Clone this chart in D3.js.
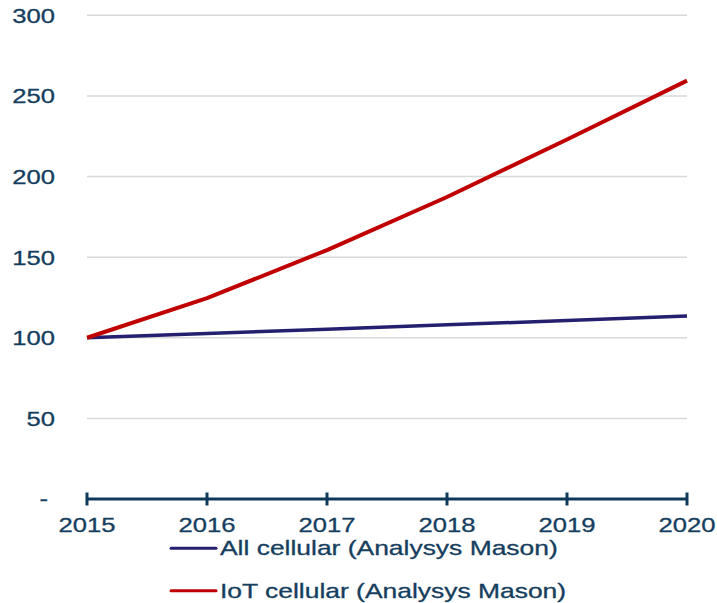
<!DOCTYPE html>
<html lang="en">
<head>
  <meta charset="UTF-8">
  <title>Cellular connections index</title>
  <script src="https://d3js.org/d3.v7.min.js"></script>
  <style>
    body { margin: 0; background: #fff; font-family: "Liberation Sans", Arial, sans-serif; }
    .lbl { fill: #153e5e; stroke: #153e5e; stroke-width: 0.3; font-size: 20.5px; }
    .grid { stroke: #d9d9d9; stroke-width: 1.5; }
    .axis { stroke: #0f3a5a; stroke-width: 3; }
  </style>
</head>
<body>
  <svg id="chart" width="717" height="603"></svg>
  <script>
    // data (index, 2015 = 100)
    const years = [2015, 2016, 2017, 2018, 2019, 2020];
    const allCellular = [100, 102.7, 105.3, 108, 110.7, 113.5];
    const iotCellular = [100, 124.6, 154.4, 187.3, 223, 259.5];
    const yTicks = [0, 50, 100, 150, 200, 250, 300];
    const yTickLabels = ["-", "50", "100", "150", "200", "250", "300"];
    const seriesNames = ["All cellular (Analysys Mason)", "IoT cellular (Analysys Mason)"];
    const seriesColors = ["#24206f", "#c00000"];

    const svg = d3.select("#chart");
    const stretch = 1.25; // text in the picture is wider than plain Arial

    const x = d3.scaleLinear().domain([2015, 2020]).range([87, 687]);
    const y = d3.scaleLinear().domain([0, 300]).range([499, 15.3]);

    // gridlines
    svg.append("g").selectAll("line")
      .data(yTicks.filter(d => d > 0))
      .enter().append("line")
      .attr("class", "grid")
      .attr("x1", x(2015)).attr("x2", x(2020))
      .attr("y1", d => y(d)).attr("y2", d => y(d));

    // y labels
    svg.append("g").selectAll("text")
      .data(yTicks)
      .enter().append("text")
      .attr("class", "lbl")
      .attr("text-anchor", "end")
      .attr("dy", "0.36em")
      .attr("transform", d => `translate(${d === 0 ? 48 : 55},${y(d)}) scale(${stretch},1)`)
      .text((d, i) => yTickLabels[i]);

    // series lines
    const line = d3.line().x((d, i) => x(years[i])).y(d => y(d));
    [allCellular, iotCellular].forEach((vals, i) => {
      svg.append("path")
        .datum(vals)
        .attr("fill", "none")
        .attr("stroke", seriesColors[i])
        .attr("stroke-width", i === 0 ? 3.5 : 4)
        .attr("stroke-linejoin", "round")
        .attr("d", line);
    });

    // x axis
    const xAxis = svg.append("g");
    xAxis.append("line").attr("class", "axis")
      .attr("x1", x(2015)).attr("x2", x(2020))
      .attr("y1", y(0)).attr("y2", y(0));
    xAxis.selectAll(".tick")
      .data(years)
      .enter().append("line")
      .attr("class", "axis")
      .attr("x1", d => x(d)).attr("x2", d => x(d))
      .attr("y1", y(0) - 6.5).attr("y2", y(0) + 6.5);
    xAxis.selectAll("text")
      .data(years)
      .enter().append("text")
      .attr("class", "lbl")
      .attr("text-anchor", "middle")
      .attr("transform", d => `translate(${x(d)},531.5) scale(${stretch},1)`)
      .text(d => d);

    // legend
    const legend = svg.append("g").selectAll("g")
      .data(seriesNames)
      .enter().append("g")
      .attr("transform", (d, i) => `translate(171,${548.3 + i * 42.4})`);
    legend.append("line")
      .attr("x1", 0).attr("x2", 45)
      .attr("stroke", (d, i) => seriesColors[i])
      .attr("stroke-width", 3)
      .attr("stroke-linecap", "round");
    legend.append("text")
      .attr("class", "lbl")
      .attr("transform", `translate(49,7) scale(1.29,1)`)
      .text(d => d);
  </script>
</body>
</html>
